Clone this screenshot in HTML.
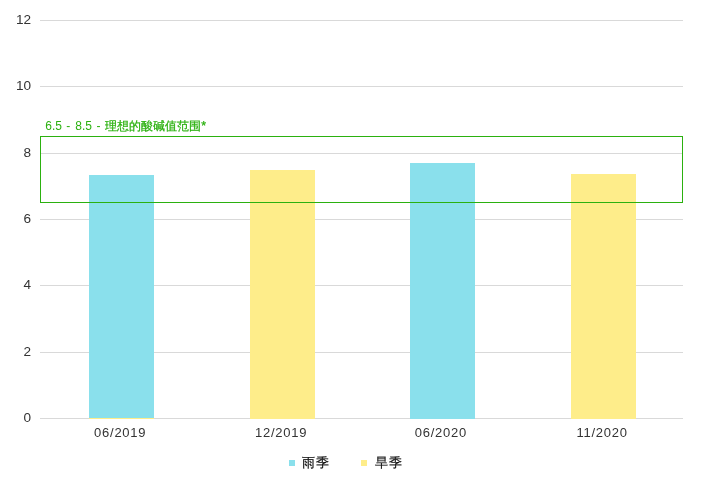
<!DOCTYPE html>
<html><head><meta charset="utf-8">
<style>
html,body{margin:0;padding:0;background:#fff;width:702px;height:498px;overflow:hidden}
svg{position:absolute;left:0;top:0;will-change:transform}
.ax{font-family:"Liberation Sans",sans-serif;font-size:13.6px;fill:#333}
.xl{font-family:"Liberation Sans",sans-serif;font-size:13px;fill:#333;letter-spacing:0.75px}
.gl{font-family:"Liberation Sans",sans-serif;font-size:12px;fill:#2bb10f}
.lg{font-family:"Liberation Sans",sans-serif;font-size:12.5px;fill:#111;stroke:#111;stroke-width:0.2px;letter-spacing:0.6px}
</style></head><body>
<svg width="702" height="498" viewBox="0 0 702 498" xmlns="http://www.w3.org/2000/svg">
<g fill="#d9d9d9" shape-rendering="crispEdges">
<rect x="40" y="20" width="643" height="1"/>
<rect x="40" y="86" width="643" height="1"/>
<rect x="40" y="153" width="643" height="1"/>
<rect x="40" y="219" width="643" height="1"/>
<rect x="40" y="285" width="643" height="1"/>
<rect x="40" y="352" width="643" height="1"/>
<rect x="40" y="418" width="643" height="1"/>
</g>
<g shape-rendering="crispEdges">
<rect x="89" y="175" width="65" height="243" fill="#8ae0ec"/>
<rect x="89" y="418" width="65" height="1" fill="#feed8a"/>
<rect x="250" y="170" width="65" height="249" fill="#feed8a"/>
<rect x="410" y="163" width="65" height="256" fill="#8ae0ec"/>
<rect x="571" y="174" width="65" height="245" fill="#feed8a"/>
</g>
<rect x="40.5" y="136.5" width="642" height="66" fill="none" stroke="#2bb10f" stroke-width="1"/>
<g class="ax" text-anchor="end">
<text x="31" y="24">12</text>
<text x="31" y="90">10</text>
<text x="31" y="157">8</text>
<text x="31" y="223">6</text>
<text x="31" y="289">4</text>
<text x="31" y="356">2</text>
<text x="31" y="422">0</text>
</g>
<g class="xl" text-anchor="middle">
<text x="120.2" y="437">06/2019</text>
<text x="281.1" y="437">12/2019</text>
<text x="440.9" y="437">06/2020</text>
<text x="602.1" y="437">11/2020</text>
</g>
<text class="gl" y="130"><tspan x="45.3">6.5</tspan><tspan x="66.3">-</tspan><tspan x="75.3">8.5</tspan><tspan x="96.5">-</tspan><tspan x="105.3" font-size="12.4" stroke="#2bb10f" stroke-width="0.25">理想的酸碱值范围*</tspan></text>
<rect x="289" y="460" width="6" height="6" fill="#8ae0ec"/>
<text class="lg" x="302" y="467">雨季</text>
<rect x="361" y="460" width="6" height="6" fill="#feed8a"/>
<text class="lg" x="375" y="467">旱季</text>
</svg>
</body></html>
